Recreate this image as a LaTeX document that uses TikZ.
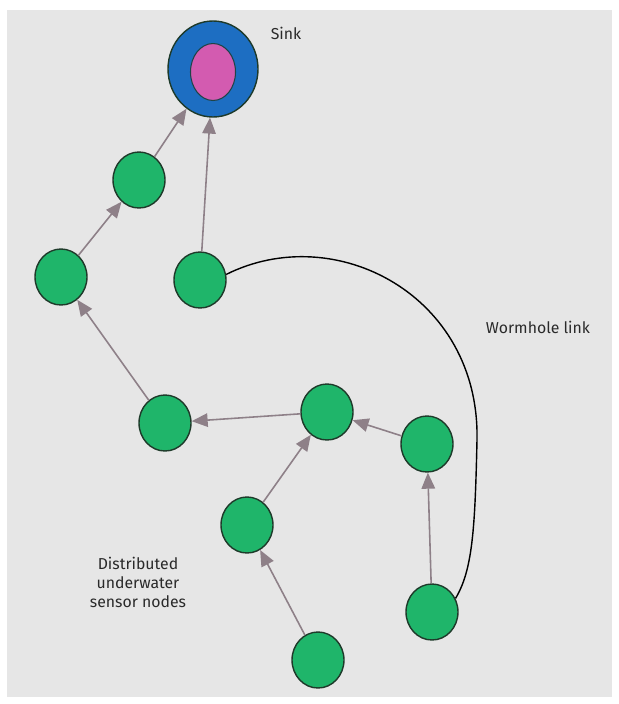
\documentclass[tikz,border=0pt]{standalone}
\usepackage{fontspec}
\setmainfont{Fira Sans}
\usepackage{xcolor}
\definecolor{paper}{HTML}{E6E6E6}
\definecolor{leaf}{HTML}{1FB56A}
\definecolor{rim}{HTML}{1E3A2A}
\definecolor{sea}{HTML}{1D6EC2}
\definecolor{rose}{HTML}{D35BB0}
\definecolor{link}{HTML}{8E8088}
\definecolor{ink}{HTML}{2A2A2A}
\usepackage{tikz}
\usetikzlibrary{shapes.geometric,arrows.meta,backgrounds}
\tikzset{
    sensor/.style = {
      ellipse,
      draw = rim,
      fill = leaf,
      line width = 0.8pt,
      minimum width = 1.04cm,
      minimum height = 1.12cm,
      inner sep = 0pt
    },
    sinkout/.style = {
      ellipse,
      draw = rim,
      fill = sea,
      line width = 0.8pt,
      minimum width = 1.8cm,
      minimum height = 1.92cm,
      inner sep = 0pt
    },
    sinkin/.style = {
      ellipse,
      draw = rim!80!sea,
      fill = rose,
      line width = 0.6pt,
      minimum width = 0.9cm,
      minimum height = 1.14cm,
      inner sep = 0pt
    },
    hop/.style = {
      draw = link,
      line width = 0.9pt,
      -{Triangle[length=0.32cm,width=0.27cm]}
    },
    caption/.style = {
      text = ink,
      font = \fontsize{9}{10.8}\selectfont,
      align = center
    }
}

\begin{document}
\begin{tikzpicture}
      \useasboundingbox (0,0) rectangle (12.38,-14.08);
      \fill[paper] (0.14,-0.2) rectangle (12.24,-13.94);

      \node[sinkout] (S) at (4.26,-1.38) {};
      \node[sinkin]  (P) at (4.26,-1.44) {};
      \node[sensor]  (A) at (2.78,-3.6)  {};
      \node[sensor]  (B) at (1.22,-5.54) {};
      \node[sensor]  (C) at (4.0, -5.6)  {};
      \node[sensor]  (D) at (3.3, -8.46) {};
      \node[sensor]  (E) at (6.54,-8.24) {};
      \node[sensor]  (F) at (8.54,-8.88) {};
      \node[sensor]  (G) at (4.94,-10.5) {};
      \node[sensor]  (H) at (8.64,-12.24) {};
      \node[sensor]  (K) at (6.36,-13.2) {};
      \coordinate   (W) at (9.54,-8.8);

      \node[caption] (L1) at (5.72,-0.66) {Sink};
      \node[caption] (L2) at (10.76,-6.54) {Wormhole link};
      \node[caption] (L3) at (2.76,-11.64) {Distributed\\underwater\\sensor nodes};

      \draw[hop] (A) -- (S);
      \draw[hop] (C) -- (S);
      \draw[hop] (B) -- (A);
      \draw[hop] (D) -- (B);
      \draw[hop] (E) -- (D);
      \draw[hop] (F) -- (E);
      \draw[hop] (G) -- (E);
      \draw[hop] (K) -- (G);
      \draw[hop] (H) -- (F);

      % wormhole
      \draw[black, line width=0.8pt] (C.12) .. controls (6.7,-4.4) and (9.6,-5.9) .. (W)
            .. controls (9.5,-10.6) and (9.45,-11.4) .. (H.30);
\end{tikzpicture}
\end{document}
